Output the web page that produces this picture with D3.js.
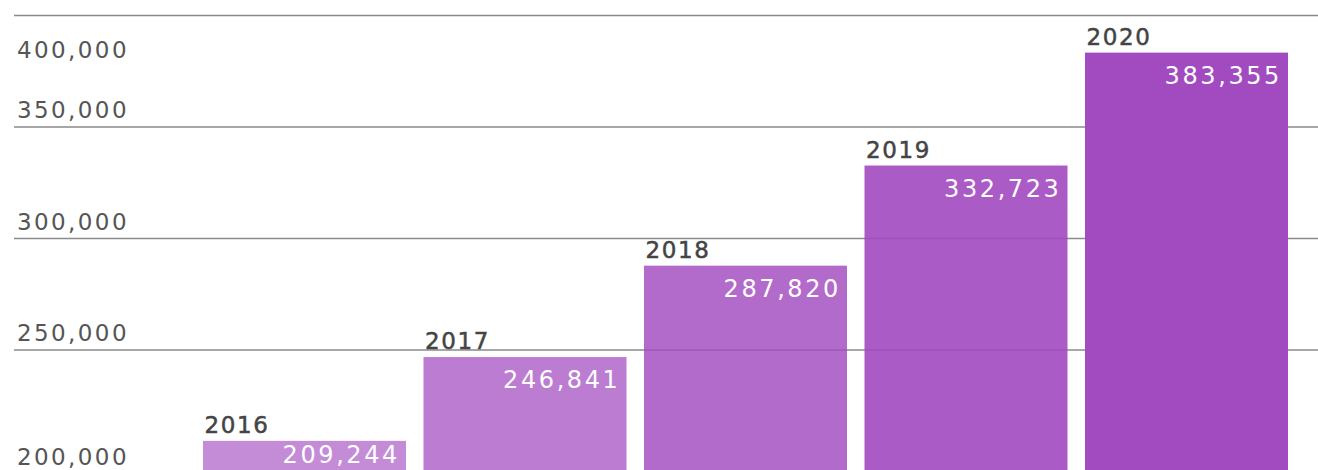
<!DOCTYPE html>
<html>
<head>
<meta charset="utf-8">
<script src="https://cdn.jsdelivr.net/npm/d3@7"></script>
<style>
  html, body { margin: 0; padding: 0; background: #fff; overflow: hidden; }
  svg { display: block; }
</style>
</head>
<body>
<div id="chart"></div>
<script>
// Données
const years = ["2016", "2017", "2018", "2019", "2020"]
const values = [209244, 246841, 287820, 332723, 383355]
const tickValues = [200000, 250000, 300000, 350000, 400000]
const gridValues = [250000, 300000, 350000, 400000]

const W = 1318, H = 470
const font = "'DejaVu Sans', sans-serif"

const svg = d3.select("#chart")
  .append("svg")
  .attr("width", W).attr("height", H)
  .style("background", "#fff")

// Échelles
const x = d3.scaleBand()
  .domain(years)
  .range([203, 1288])
  .paddingInner(0.0794)
  .paddingOuter(0)

const y = d3.scaleLinear()
  .domain([250000, 400000])
  .range([350, 15.5])

const opacity = d3.scaleLinear()
  .domain([0, years.length - 1])
  .range([0.64, 1])

// Grille (sous les barres, visible à travers les barres translucides)
svg.append("g")
  .selectAll("line")
  .data(gridValues)
  .join("line")
  .attr("x1", 14).attr("x2", W)
  .attr("y1", (d) => y(d)).attr("y2", (d) => y(d))
  .attr("stroke", "#8a8a8a").attr("stroke-width", 1.7)

// Libellés d'axe : au-dessus de leur ligne, les extrêmes épinglés dans la zone
const labelY = (v, i) => {
  if (i === 0) return H - 5
  if (i === tickValues.length - 1) return y(v) + 42
  return y(v) - 9
}
svg.append("g")
  .selectAll("text")
  .data(tickValues)
  .join("text")
  .attr("x", 17)
  .attr("y", labelY)
  .attr("fill", "#555")
  .attr("font-family", font)
  .attr("font-size", 23)
  .attr("letter-spacing", 2.4)
  .text((d) => d3.format(",")(d))

// Barres
const bars = svg.append("g")
  .selectAll("g")
  .data(years.map((yr, i) => ({ year: yr, value: values[i], i })))
  .join("g")

bars.append("rect")
  .attr("x", (d) => x(d.year))
  .attr("y", (d) => y(d.value))
  .attr("width", x.bandwidth())
  .attr("height", (d) => H - y(d.value) + 5)
  .attr("fill", "#a24bc0")
  .attr("fill-opacity", (d) => opacity(d.i))

// Années au-dessus des barres
bars.append("text")
  .attr("x", (d) => x(d.year) + 1.5)
  .attr("y", (d) => y(d.value) - 8)
  .attr("fill", "#444")
  .attr("font-family", font)
  .attr("font-size", 23)
  .attr("letter-spacing", 1.6)
  .attr("stroke", "#444").attr("stroke-width", 0.5)
  .text((d) => d.year)

// Valeurs dans les barres (alignées à droite, gardées visibles en bas)
bars.append("text")
  .attr("x", (d) => x(d.year) + x.bandwidth() - 6)
  .attr("y", (d) => Math.min(y(d.value) + 31, H - 7))
  .attr("text-anchor", "end")
  .attr("fill", "#fff")
  .attr("font-family", font)
  .attr("font-size", 24)
  .attr("letter-spacing", 2.6)
  .text((d) => d3.format(",")(d.value))
</script>
</body>
</html>
